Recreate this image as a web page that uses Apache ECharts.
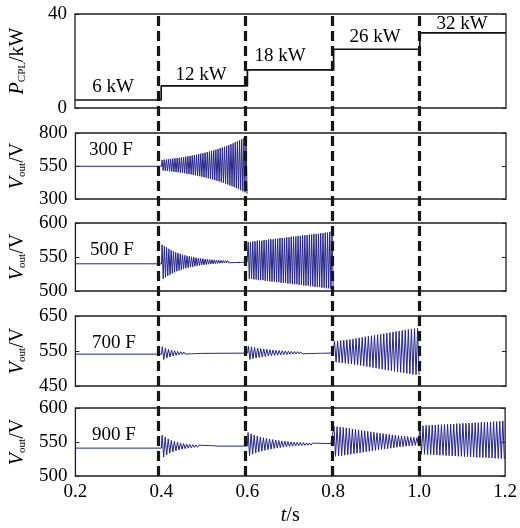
<!DOCTYPE html>
<html><head><meta charset="utf-8">
<script src="https://cdn.jsdelivr.net/npm/echarts@6/dist/echarts.min.js"></script>
<style>html,body{margin:0;padding:0;background:#fff}#c{width:520px;height:528px}</style>
</head><body><div id="c"></div>
<script>
// ---------- data ----------
const timeTicks = [0.2, 0.4, 0.6, 0.8, 1.0, 1.2];
const segStarts = [0.4, 0.6, 0.8, 1.0];
const stepTimes = [0.2, 0.4, 0.6, 0.8, 1.0, 1.2];
const powerKW = [3.4, 9.4, 16.2, 25, 32, 32];
const powerLabels = ['6 kW', '12 kW', '18 kW', '26 kW', '32 kW'];
const capLabels = ['300 F', '500 F', '700 F', '900 F'];
const yRanges = [[0, 40, 40], [300, 800, 250], [500, 600, 50], [450, 650, 100], [500, 600, 50]];

// 300 F
const c300Base = 548;
const c300Cycles = 40;
const c300Hi1 = [596,598,600,602,604,606,608,610,612,615,617,620,623,626,629,633,636,640,643,647,651,655,660,664,669,674,679,685,690,696,702,709,715,722,730,737,745,753,762,771];
const c300Lo1 = [516,514,512,510,508,506,504,502,500,497,495,492,489,486,483,479,476,472,469,465,461,457,452,448,443,438,433,427,422,416,410,403,397,390,382,375,367,359,350,341];

// 500 F
const c500Base = 540;
const c500Cycles = 38;
const c500Hi1 = [568,566,564,562,560,558.5,557,555.8,554.6,553.5,552.5,551.7,550.9,550.2,549.5,548.9,548.4,547.9,547.4,547,546.6,546.3,546,545.7,545.5,545.2,545,544.8,544.7,544.5,544.4,544.2,544.1,544,544,543.9,543.8,543.8];
const c500Lo1 = [518,520,522,524,526,527.5,529,530.2,531.4,532.5,533.5,534.3,535.1,535.8,536.5,537.1,537.6,538.1,538.6,539,539.4,539.7,540,540.3,540.5,540.8,541,541.2,541.3,541.5,541.6,541.8,541.9,542,542,542.1,542.2,542.2];
const c500Settle1 = 543;
const c500Hi2 = [572,572,573,573,574,574,574,575,575,576,576,576,577,577,578,578,578,579,579,580,580,580,581,581,582,582,582,583,583,584,584,584,585,585,586,586,587,587];
const c500Lo2 = [518,518,517,517,516,516,516,515,515,514,514,514,513,513,512,512,512,511,511,510,510,510,509,509,508,508,508,507,507,506,506,506,505,505,504,504,503,503];

// 700 F
const c700Base = 541;
const c700Cycles = 28;
const c700Hi1 = [562,558,555,552.5,550.5,549,548,547,546.4,546,545.6,545.3,545,544.8];
const c700Lo1 = [526,530,533,535.5,537.5,539,540,541,541.6,542,542.4,542.7,543,543.2];
const c700Settle1 = 544;
const c700Hi2 = [564,562,560,558.5,557,555.8,554.7,553.7,552.8,552,551.3,550.6,550,549.5,549,548.6,548.2,547.9,547.6,547.3,547.1,546.9,546.7,546.5,546.3,546.2,546.1,546];
const c700Lo2 = [526,528,530,531.5,533,534.2,535.3,536.3,537.2,538,538.7,539.4,540,540.5,541,541.4,541.8,542.1,542.4,542.7,542.9,543.1,543.3,543.5,543.7,543.8,543.9,544];
const c700Hi3 = [578,579,580,581,582,583,584.5,586,587.5,589,590.5,592,593.5,595,596.5,598,599.5,601,602.5,604,605.5,607,608.5,610,611.5,613,614,615];
const c700Lo3 = [518,517,516,515,514,513,511.5,510,508.5,507,505.5,504,502.5,501,499.5,498,496.5,495,493.5,492,490.5,489,487.5,486,484.5,483,482,481];

// 900 F
const c900Base = 541;
const c900Cycles = 28;
const c900Hi1 = [560,557,554.5,552.5,551,549.7,548.6,547.8,547.1,546.5,546,545.7,545.4,545.1,544.9,544.8,544.6,544.5];
const c900Lo1 = [528,531,533.5,535.5,537,538.3,539.4,540.2,540.9,541.5,542,542.3,542.6,542.9,543.1,543.2,543.4,543.5];
const c900Settle1 = 544;
const c900Hi2 = [564,562,560.3,558.8,557.5,556.3,555.3,554.4,553.6,552.9,552.2,551.6,551.1,550.6,550.2,549.8,549.5,549.2,549,548.8,548.6,548.4,548.2,548.1,548,547.9,547.8,547.7];
const c900Lo2 = [530,532,533.7,535.2,536.5,537.7,538.7,539.6,540.4,541.1,541.8,542.4,542.9,543.4,543.8,544.2,544.5,544.8,545,545.2,545.4,545.6,545.8,545.9,546,546.1,546.2,546.3];
const c900Hi3 = [573,572.5,572,571.3,570.6,569.9,569.2,568.5,567.8,567.1,566.4,565.7,565,564.3,563.6,562.9,562.3,561.7,561.1,560.5,559.9,559.4,558.9,558.4,557.9,557.4,556.9,556.4];
const c900Lo3 = [529,529.5,530,530.7,531.4,532.1,532.8,533.5,534.2,534.9,535.6,536.3,537,537.7,538.4,539.1,539.7,540.3,540.9,541.5,542.1,542.6,543.1,543.6,544.1,544.6,545.1,545.6];
const c900Hi4 = [574,574,574.5,574.5,575,575,575.5,575.5,576,576,576.5,576.5,577,577,577.5,577.5,578,578,578.5,578.5,579,579,579.5,579.5,580,580,580.5,581];
const c900Lo4 = [532,532,531.5,531.5,531,531,530.5,530.5,530,530,529.5,529.5,529,529,528.5,528.5,528,528,527.5,527.5,527,527,526.5,526.5,526,526,525.5,525];

// ---------- build traces ----------
function trace(base, cycles, segs) {
  const pts = [[timeTicks[0], base], [segStarts[0], base]];
  const half = 0.2 / (2 * cycles);
  segs.forEach((s, i) => {
    const t0 = segStarts[i];
    s.hi.forEach((h, k) => {
      pts.push([t0 + (2 * k + 0.5) * half, h]);
      pts.push([t0 + (2 * k + 1.5) * half, s.lo[k]]);
    });
    if (s.settle !== undefined) {
      const tl = Math.min(t0 + (2 * s.hi.length + 0.5) * half, t0 + 0.2);
      pts.push([tl, s.settle]);
      pts.push([t0 + 0.2, s.settle]);
    }
  });
  return pts;
}
const traces = [
  trace(c300Base, c300Cycles, [{hi: c300Hi1, lo: c300Lo1}]),
  trace(c500Base, c500Cycles, [{hi: c500Hi1, lo: c500Lo1, settle: c500Settle1}, {hi: c500Hi2, lo: c500Lo2}]),
  trace(c700Base, c700Cycles, [{hi: c700Hi1, lo: c700Lo1, settle: c700Settle1}, {hi: c700Hi2, lo: c700Lo2}, {hi: c700Hi3, lo: c700Lo3}]),
  trace(c900Base, c900Cycles, [{hi: c900Hi1, lo: c900Lo1, settle: c900Settle1}, {hi: c900Hi2, lo: c900Lo2}, {hi: c900Hi3, lo: c900Lo3}, {hi: c900Hi4, lo: c900Lo4}])
];

// ---------- layout ----------
const FONT = "'Liberation Serif', 'DejaVu Serif', serif";
const INK = '#000';
const BLUE = '#23238a';
const gridBoxes = [[14, 94], [133, 66], [223, 68], [316, 70], [408, 68]];
const powerLabelPos = [[113, 87], [201, 75], [280, 56], [375, 37], [462, 24]];
const capLabelPos = [[111, 150], [112, 250], [114, 343], [114, 435]];

const grids = gridBoxes.map(([top, h]) => ({
  left: 71, right: 14, top: top, height: h, show: true,
  borderColor: '#1e1e1e', borderWidth: 1.3, backgroundColor: 'transparent'
}));
grids.push({left: 71, right: 14, top: 13, height: 463, show: false});

const richName = {
  i: {fontFamily: FONT, fontStyle: 'italic', fontSize: 20, color: INK},
  s: {fontFamily: FONT, fontSize: 11, color: INK, padding: [8, 0, 0, 0]},
  n: {fontFamily: FONT, fontSize: 20, color: INK}
};

const xAxes = gridBoxes.map((g, i) => ({
  gridIndex: i, type: 'value', min: timeTicks[0], max: timeTicks[timeTicks.length - 1], interval: 0.2,
  axisLine: {show: false}, axisTick: {show: false}, splitLine: {show: false},
  axisLabel: {show: i === 4, fontFamily: FONT, fontSize: 19, color: INK, margin: 7,
    formatter: v => v.toFixed(1)},
  name: i === 4 ? '{i|t}{n|/s}' : '', nameLocation: 'middle', nameGap: 30,
  nameTextStyle: {rich: richName}
}));
xAxes.push({gridIndex: 5, type: 'value', min: 0.2, max: 1.2, show: false});

const yAxes = [];
yRanges.forEach(([mn, mx, iv], i) => {
  yAxes.push({
    gridIndex: i, type: 'value', min: mn, max: mx, interval: iv,
    axisLine: {show: false}, splitLine: {show: false},
    axisTick: {show: true, inside: true, length: 4, lineStyle: {color: '#222', width: 1}},
    axisLabel: {fontFamily: FONT, fontSize: 19, color: INK, margin: 8},
    name: i === 0 ? '{i|P}{s|CPL}{n|/kW}' : '{i|V}{s|out}{n|/V}',
    nameLocation: 'middle', nameGap: 47, nameRotate: 90,
    nameTextStyle: {rich: richName}
  });
  yAxes.push({
    gridIndex: i, type: 'value', min: mn, max: mx, interval: iv, position: 'right',
    axisLine: {show: false}, splitLine: {show: false}, axisLabel: {show: false},
    axisTick: {show: true, inside: true, length: 4, lineStyle: {color: '#222', width: 1}}
  });
});
yAxes.push({gridIndex: 5, type: 'value', min: 0, max: 1, show: false});

const series = [{
  type: 'line', xAxisIndex: 0, yAxisIndex: 0, step: 'end', showSymbol: false,
  data: stepTimes.map((t, k) => [t, powerKW[k]]),
  lineStyle: {color: '#111', width: 1.7}, animation: false
}];
traces.forEach((d, i) => {
  series.push({
    type: 'line', xAxisIndex: i + 1, yAxisIndex: 2 * (i + 1), showSymbol: false,
    data: d, lineStyle: {color: BLUE, width: 1}, sampling: null, animation: false, z: 3
  });
});
series.push({
  type: 'line', xAxisIndex: 5, yAxisIndex: 10, showSymbol: false, silent: true,
  data: [[0.2, 0.5], [1.2, 0.5]], lineStyle: {opacity: 0}, z: 10, animation: false,
  markLine: {
    silent: true, symbol: ['none', 'none'], animation: false, label: {show: false},
    lineStyle: {type: [10, 5], width: 3.2, color: '#161616'},
    data: segStarts.map(t => ({xAxis: t}))
  }
});

const graphic = [];
powerLabels.forEach((txt, k) => graphic.push({
  type: 'text', x: powerLabelPos[k][0], y: powerLabelPos[k][1], z: 20,
  style: {text: txt, font: '19px ' + FONT, fill: INK, align: 'center', verticalAlign: 'middle',
    textAlign: 'center', textVerticalAlign: 'middle'}
}));
capLabels.forEach((txt, k) => graphic.push({
  type: 'text', x: capLabelPos[k][0], y: capLabelPos[k][1], z: 20,
  style: {text: txt, font: '19px ' + FONT, fill: INK, align: 'center', verticalAlign: 'middle',
    textAlign: 'center', textVerticalAlign: 'middle'}
}));

const chart = echarts.init(document.getElementById('c'), null, {renderer: 'canvas'});
chart.setOption({
  animation: false, backgroundColor: '#fff',
  grid: grids, xAxis: xAxes, yAxis: yAxes, series: series, graphic: graphic
});
</script></body></html>
